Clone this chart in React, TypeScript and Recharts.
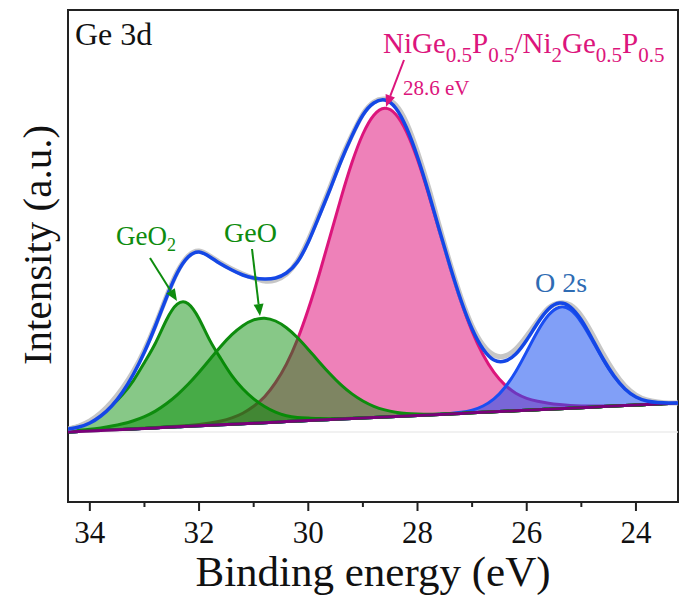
import { ComposedChart, Area, Line, XAxis, YAxis, ReferenceArea, ReferenceLine } from 'recharts';

// binding energy grid (eV), high -> low
const energy = [
  34.4, 34.2, 34.0, 33.8, 33.6, 33.4, 33.2, 33.0, 32.8, 32.6,
  32.4, 32.2, 32.0, 31.8, 31.6, 31.4, 31.2, 31.0, 30.8, 30.6,
  30.4, 30.2, 30.0, 29.8, 29.6, 29.4, 29.2, 29.0, 28.8, 28.6,
  28.4, 28.2, 28.0, 27.8, 27.6, 27.4, 27.2, 27.0, 26.8, 26.6,
  26.4, 26.2, 26.0, 25.8, 25.6, 25.4, 25.2, 25.0, 24.8, 24.6,
  24.4, 24.2, 24.0, 23.8, 23.6, 23.4, 23.2,
];

// linear background
const background = [
  70.0, 70.5, 71.0, 71.6, 72.1, 72.6, 73.1, 73.6, 74.1, 74.7,
  75.2, 75.7, 76.2, 76.7, 77.2, 77.8, 78.3, 78.8, 79.3, 79.8,
  80.4, 80.9, 81.4, 81.9, 82.4, 82.9, 83.5, 84.0, 84.5, 85.0,
  85.5, 86.0, 86.6, 87.1, 87.6, 88.1, 88.6, 89.2, 89.7, 90.2,
  90.7, 91.2, 91.7, 92.3, 92.8, 93.3, 93.8, 94.3, 94.8, 95.4,
  95.9, 96.4, 96.9, 97.4, 98.0, 98.5, 99.0,
];

// fitted components (height above background)
const geo2 = [
  3.7, 5.9, 10.0, 16.2, 24.3, 34.9, 48.6, 66.0, 84.7, 107.1,
  122.6, 122.6, 107.1, 84.7, 66.0, 48.6, 34.9, 24.3, 16.2, 10.0,
  5.9, 3.7, 2.5, 1.5, 0.9, 0.5, 0.3, 0.2, 0, 0,
  0, 0, 0, 0, 0, 0, 0, 0, 0, 0,
  0, 0, 0, 0, 0, 0, 0, 0, 0, 0,
  0, 0, 0, 0, 0, 0, 0,
];

const geo = [
  0.8, 1.2, 1.7, 2.5, 3.8, 5.6, 8.2, 11.8, 16.8, 23.5,
  32, 42, 53.5, 66, 78.5, 89.5, 98, 103.3, 104.5, 101.2,
  93.9, 83.6, 71.2, 58.2, 45.6, 34.2, 24.6, 17.0, 11.2, 7.1,
  4.3, 2.5, 1.4, 0.7, 0.4, 0.2, 0.1, 0, 0, 0,
  0, 0, 0, 0, 0, 0, 0, 0, 0, 0,
  0, 0, 0, 0, 0, 0, 0,
];

const nigep = [
  0, 0, 0, 0, 0, 0.1, 0.1, 0.2, 0.3, 0.4,
  0.6, 0.9, 1.4, 2.3, 3.8, 6.3, 10.5, 17, 26, 39.5,
  57.5, 81.4, 111.3, 145.9, 183.4, 221.2, 255.9, 284.0, 302.3, 308.7,
  302.3, 284.0, 255.9, 221.2, 183.4, 145.9, 111.3, 81.4, 57.6, 39.5,
  26.5, 17.5, 12, 8.5, 6, 4.2, 2.8, 1.8, 1.1, 0.6,
  0.3, 0.1, 0, 0, 0, 0, 0,
];

const o2s = [
  0, 0, 0, 0, 0, 0, 0, 0, 0, 0,
  0, 0, 0, 0, 0, 0, 0, 0, 0, 0,
  0, 0, 0, 0, 0, 0, 0, 0, 0, 0,
  0, 0, 0, 0, 0.1, 0.4, 1.1, 2.7, 6.3, 12.9,
  23.8, 39.4, 58.7, 78.4, 94.1, 101.5, 98.3, 85.4, 66.7, 46.8,
  29.5, 16.7, 8.5, 3.9, 1.6, 0.6, 0.2,
];

// fit envelope and measured spectrum
const envelope = [
  73, 75, 79, 86, 96, 110, 128, 150, 176, 204,
  229, 245, 250, 245, 238, 232, 227, 224, 223, 224,
  229, 240, 260, 286, 313, 341, 366, 387, 399, 402,
  394, 374, 345, 310, 272, 235, 201, 173, 153, 142,
  141, 148, 162, 179, 193, 199, 195, 182, 163, 143,
  126, 113, 105, 101, 99.5, 99, 99,
];

const raw = [
  73, 76, 81, 89, 100, 114, 131, 152, 177, 205,
  230, 246, 251, 246, 239, 233, 228, 224, 221, 222,
  228, 241, 262, 288, 315, 343, 367, 388, 400, 403,
  397, 379, 350, 315, 276, 238, 204, 176, 157, 147,
  146, 153, 166, 181, 194, 199, 197, 186, 168, 148,
  130, 116, 107, 102, 100, 99, 99,
];

const majorTicks = [24, 26, 28, 30, 32, 34];
const allTicks = [24, 25, 26, 27, 28, 29, 30, 31, 32, 33, 34];

const rows = energy.map((e, i) => ({
  e,
  bg: background[i],
  geo2: geo2[i],
  geo: geo[i],
  nigep: nigep[i],
  o2s: o2s[i],
  fit: envelope[i],
  raw: raw[i],
}));

const FONT = 'Liberation Serif, DejaVu Serif, serif';
const GREEN = '#0e8c0e';
const PINK = '#dc157c';
const BLUE = '#1a4ef2';

function AxisTick(props: any) {
  const { x, y, payload } = props;
  const major = majorTicks.includes(payload.value);
  return (
    <g>
      <line x1={x} x2={x} y1={y} y2={y + (major ? 9 : 5)} stroke="#222" strokeWidth={2} />
      {major && (
        <text x={x} y={y + 41} textAnchor="middle" fontSize={31} fontFamily={FONT} fill="#111">
          {payload.value}
        </text>
      )}
    </g>
  );
}

function Arrow({ from, to, color }: { from: number[]; to: number[]; color: string }) {
  const [x1, y1] = from;
  const [x2, y2] = to;
  const len = Math.hypot(x2 - x1, y2 - y1);
  const ux = (x2 - x1) / len;
  const uy = (y2 - y1) / len;
  const bx = x2 - ux * 12;
  const by = y2 - uy * 12;
  const pts = `${x2},${y2} ${bx - uy * 5},${by + ux * 5} ${bx + uy * 5},${by - ux * 5}`;
  return (
    <g>
      <line x1={x1} y1={y1} x2={bx} y2={by} stroke={color} strokeWidth={2} />
      <polygon points={pts} fill={color} />
    </g>
  );
}

export default function App() {
  return (
    <div style={{ position: 'absolute', left: 0, top: 0, width: 680, height: 596, background: '#fff', fontFamily: FONT }}>
      <ComposedChart width={680} height={596} data={rows} margin={{ top: 10, right: 2, left: 68, bottom: 0 }}>
        <XAxis
          dataKey="e"
          type="number"
          domain={[23.23, 34.4]}
          reversed
          allowDataOverflow
          ticks={allTicks}
          interval={0}
          tickSize={0}
          tickMargin={0}
          tickLine={false}
          axisLine={false}
          tick={<AxisTick />}
          height={94}
        />
        <YAxis type="number" domain={[0, 492]} hide allowDataOverflow />
        <ReferenceLine y={70} stroke="#ececec" strokeWidth={1.5} />
        <Line dataKey="raw" type="natural" stroke="#c6c6c6" strokeWidth={5} dot={false} isAnimationActive={false} />
        <Area
          dataKey={(d: any) => [d.bg, d.bg + d.nigep]}
          type="natural"
          stroke={PINK}
          strokeWidth={3}
          fill="#e01a7f"
          fillOpacity={0.55}
          isAnimationActive={false}
        />
        <Area
          dataKey={(d: any) => [d.bg, d.bg + d.o2s]}
          type="natural"
          stroke={BLUE}
          strokeWidth={3}
          fill="#1a50f0"
          fillOpacity={0.55}
          isAnimationActive={false}
        />
        <Area
          dataKey={(d: any) => [d.bg, d.bg + d.geo2]}
          type="natural"
          stroke={GREEN}
          strokeWidth={3}
          fill="#008a00"
          fillOpacity={0.47}
          isAnimationActive={false}
        />
        <Area
          dataKey={(d: any) => [d.bg, d.bg + d.geo]}
          type="natural"
          stroke={GREEN}
          strokeWidth={3}
          fill="#008a00"
          fillOpacity={0.47}
          isAnimationActive={false}
        />
        <Line dataKey="bg" type="linear" stroke="#7a007a" strokeWidth={3} dot={false} isAnimationActive={false} />
        <Line dataKey="fit" type="natural" stroke="#1447e6" strokeWidth={3.5} dot={false} isAnimationActive={false} />
        <ReferenceArea x1={23.23} x2={34.4} y1={0} y2={492} fill="none" stroke="#222" strokeWidth={2} ifOverflow="visible" />
      </ComposedChart>

      <svg width={680} height={596} style={{ position: 'absolute', left: 0, top: 0, pointerEvents: 'none' }}>
        <g fontFamily={FONT}>
          <text x={75} y={45} fontSize={32} fill="#111">Ge 3d</text>

          <text x={116} y={245} fontSize={27} fill={GREEN}>
            GeO<tspan fontSize={18} dy={6}>2</tspan>
          </text>
          <Arrow from={[150, 258]} to={[177, 301]} color={GREEN} />

          <text x={224} y={242} fontSize={28} fill={GREEN}>GeO</text>
          <Arrow from={[252, 249]} to={[260, 316]} color={GREEN} />

          <text x={383} y={53} fontSize={29} fill={PINK}>
            NiGe<tspan fontSize={21} dy={9}>0.5</tspan>
            <tspan dy={-9}>P</tspan>
            <tspan fontSize={21} dy={9}>0.5</tspan>
            <tspan dy={-9}>/Ni</tspan>
            <tspan fontSize={21} dy={9}>2</tspan>
            <tspan dy={-9}>Ge</tspan>
            <tspan fontSize={21} dy={9}>0.5</tspan>
            <tspan dy={-9}>P</tspan>
            <tspan fontSize={21} dy={9}>0.5</tspan>
          </text>
          <text x={403} y={95} fontSize={21} fill={PINK}>28.6 eV</text>
          <Arrow from={[404, 60]} to={[386, 107]} color={PINK} />

          <text x={535} y={292} fontSize={28} fill="#2f6cb3">O 2s</text>

          <text x={373} y={586} textAnchor="middle" fontSize={43} fill="#111">Binding energy (eV)</text>
          <text transform="translate(51,245) rotate(-90)" textAnchor="middle" fontSize={41} fill="#111">
            Intensity (a.u.)
          </text>
        </g>
      </svg>
    </div>
  );
}
